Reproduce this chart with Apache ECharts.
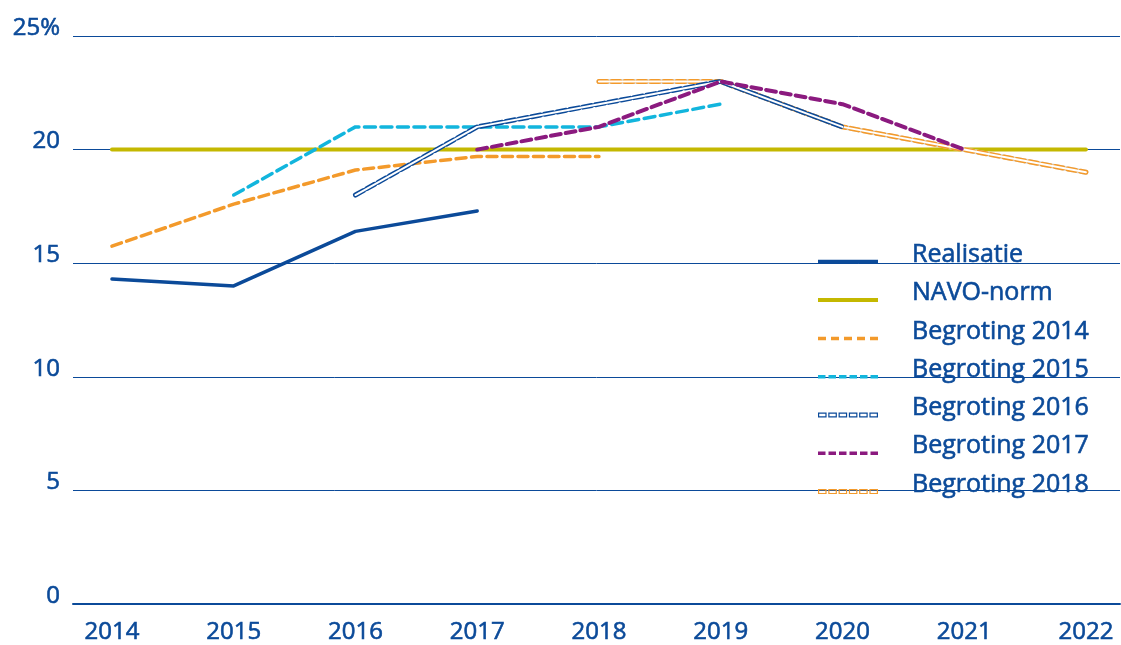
<!DOCTYPE html>
<html>
<head>
<meta charset="utf-8">
<script src="https://cdn.jsdelivr.net/npm/echarts@6/dist/echarts.min.js"></script>
<style>
html,body{margin:0;padding:0;background:#fff;}
#chart{width:1121px;height:645px;}
</style>
</head>
<body>
<div id="chart"></div>
<script>
var years = [2014, 2015, 2016, 2017, 2018, 2019, 2020, 2021, 2022];
var realisatie  = [14.3, 14.0, 16.4, 17.3, null, null, null, null, null];
var navoNorm    = [20, 20, 20, 20, 20, 20, 20, 20, 20];
var begroting2014 = [15.75, 17.6, 19.1, 19.7, 19.7, null, null, null, null];
var begroting2015 = [null, 18.0, 21.0, 21.0, 21.0, 22.0, null, null, null];
var begroting2016 = [null, null, 18.0, 21.0, 22.0, 23.0, 21.0, null, null];
var begroting2017 = [null, null, null, 20.0, 21.0, 23.0, 22.0, 20.0, null];
var begroting2018 = [null, null, null, null, 23.0, 23.0, 21.0, 20.0, 19.0];

var BLUE = '#0b4a99', OLIVE = '#c4b800', ORANGE = '#f39a2b', CYAN = '#12b5dd', PURPLE = '#8b1a7f';
var FONT = 'Open Sans';
var TB = { textBorderColor: BLUE, textBorderWidth: 0.6 };

function pairs(arr) {
  var out = [];
  arr.forEach(function (v, i) { if (v !== null) out.push([years[i], v]); });
  return out;
}

// legend icons (drawn in a 60 x 6 box)
function solidIcon(h) {
  var y = (6 - h) / 2;
  return 'path://M0,0h0.01v6h-0.01zM60,0h0.01v6h-0.01zM0,' + y + 'h60v' + h + 'h-60z';
}
function dashedIcon(n, dash, h) {
  var gap = (60 - n * dash) / (n - 1);
  var y = (6 - h) / 2;
  var p = 'path://M0,0h0.01v6h-0.01zM60,0h0.01v6h-0.01z';
  for (var i = 0; i < n; i++) {
    var x = i * (dash + gap);
    p += 'M' + x + ',' + y + 'h' + dash + 'v' + h + 'h' + (-dash) + 'z';
  }
  return p;
}
function doubleIcon() {
  var n = 6, w = 8.6, h = 5, t = 1.2;
  var g = (60 - n * w) / (n - 1);
  var y0 = 0.5;
  var p = 'path://M0,0h0.01v6h-0.01zM60,0h0.01v6h-0.01z';
  for (var i = 0; i < n; i++) {
    var x = i * (w + g);
    p += 'M' + x + ',' + y0 + 'h' + w + 'v' + h + 'h' + (-w) + 'z';
    p += 'M' + (x + t) + ',' + (y0 + t) + 'v' + (h - 2 * t) + 'h' + (w - 2 * t) + 'v' + (-(h - 2 * t)) + 'z';
  }
  return p;
}

function line(name, arr, color, width, dash, z) {
  return {
    name: name, type: 'line', data: pairs(arr), symbol: 'none', z: z,
    lineStyle: { color: color, width: width, type: dash || 'solid', cap: 'round', join: 'round' },
    itemStyle: { color: color },
    emphasis: { disabled: true }, silent: true, animation: false
  };
}

var series = [
  line('NAVO-norm', navoNorm, OLIVE, 4, null, 2),
  line('_b2018grey', begroting2018, '#d9d9d9', 5, null, 3),
  line('Begroting 2018', begroting2018, ORANGE, 5, [8, 5], 3),
  line('_b2018white', begroting2018, '#ffffff', 2, null, 3),
  line('Begroting 2014', begroting2014, ORANGE, 3.5, [10, 5.5], 4),
  line('Begroting 2015', begroting2015, CYAN, 3.5, [11, 5.5], 5),
  line('Begroting 2016', begroting2016, BLUE, 5, [9, 4], 6),
  line('_b2016white', begroting2016, '#ffffff', 2, null, 6),
  line('Begroting 2017', begroting2017, PURPLE, 4, [10, 5], 7),
  line('Realisatie', realisatie, BLUE, 3.5, null, 8)
];

var chart = echarts.init(document.getElementById('chart'), null, { renderer: 'canvas' });
chart.setOption({
  animation: false,
  backgroundColor: '#ffffff',
  grid: { left: 73, right: 1, top: 36, bottom: 41, containLabel: false },
  xAxis: {
    type: 'value', min: 2013.68, max: 2022.28,
    axisLine: { show: true, lineStyle: { color: BLUE, width: 2 } },
    axisTick: { show: false },
    splitLine: { show: false },
    axisLabel: Object.assign({
      customValues: years, color: BLUE, fontFamily: FONT, fontSize: 24, margin: 16,
      formatter: function (v) { return String(v); }
    }, TB)
  },
  yAxis: {
    type: 'value', min: 0, max: 25, interval: 5,
    axisLine: { show: false }, axisTick: { show: false },
    splitLine: { show: true, lineStyle: { color: BLUE, width: 1 } },
    axisLabel: Object.assign({
      color: BLUE, fontFamily: FONT, fontSize: 24, margin: 13, align: 'right', verticalAlign: 'bottom',
      lineHeight: 24, padding: [0, 0, -4, 0],
      formatter: function (v) { return v === 25 ? '25%' : String(v); }
    }, TB)
  },
  legend: {
    orient: 'vertical', left: 813, top: 237,
    itemWidth: 60, itemHeight: 6, itemGap: 1.5,
    formatter: function (name) { return '{t|' + name + '}\n{s|}'; },
    textStyle: {
      color: BLUE, fontFamily: FONT, fontSize: 25, padding: [0, 0, 0, 29],
      rich: {
        t: Object.assign({ color: BLUE, fontFamily: FONT, fontSize: 25, lineHeight: 24 }, TB),
        s: { lineHeight: 14, fontSize: 10 }
      }
    },
    data: [
      { name: 'Realisatie', icon: solidIcon(4), itemStyle: { color: BLUE } },
      { name: 'NAVO-norm', icon: solidIcon(4), itemStyle: { color: OLIVE } },
      { name: 'Begroting 2014', icon: dashedIcon(5, 8, 3.5), itemStyle: { color: ORANGE } },
      { name: 'Begroting 2015', icon: dashedIcon(6, 7.5, 3.5), itemStyle: { color: CYAN } },
      { name: 'Begroting 2016', icon: doubleIcon(), itemStyle: { color: BLUE } },
      { name: 'Begroting 2017', icon: dashedIcon(6, 7.5, 3.5), itemStyle: { color: PURPLE } },
      { name: 'Begroting 2018', icon: doubleIcon(), itemStyle: { color: ORANGE } }
    ],
    selectedMode: false
  },
  series: series
});
</script>
</body>
</html>
